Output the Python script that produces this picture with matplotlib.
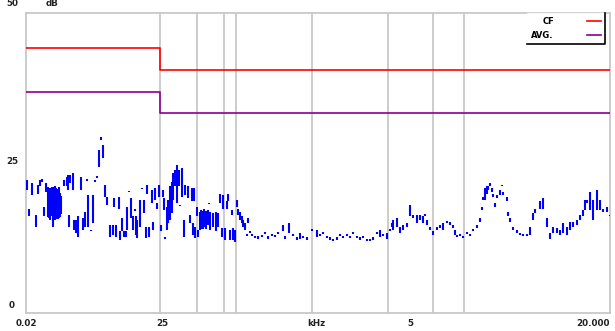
import matplotlib
matplotlib.use("Agg")
import matplotlib.pyplot as plt
from matplotlib.lines import Line2D
from matplotlib.transforms import blended_transform_factory

# band edges (x position along the frequency axis) and step levels
band_edges = [0, 134, 584]
cf_levels = [44.2, 40.5]
avg_levels = [36.8, 33.3]

# vertical markers
grid_x = [134, 171, 198, 210, 286, 362, 407, 438]

# axis labels
xtick_pos = [0, 136, 290, 384, 584]
xtick_labels = ["0.02", "25", "kHz", "5", "20.000"]
ytick_vals = [0, 25, 50]
ytick_shift = [1.3, 0.2, 1.5]

blue_x = [1, 3, 6, 10, 12, 14, 16, 18, 20, 22, 23, 24, 25, 26, 27, 29, 30, 31, 32, 33,
          34, 35, 38, 41, 42, 43, 44, 47, 48, 50, 52, 55, 57, 59, 61, 62, 65, 67, 69, 71,
          73, 75, 77, 79, 81, 84, 87, 88, 90, 93, 94, 96, 98, 100, 101, 103, 105, 107, 109, 110,
          111, 114, 116, 118, 120, 121, 123, 126, 127, 129, 131, 133, 135, 137, 138, 139, 141, 142, 144, 146,
          147, 149, 151, 153, 154, 156, 158, 159, 162, 164, 166, 167, 168, 169, 171, 172, 174, 175, 176, 177,
          178, 179, 180, 182, 183, 184, 187, 190, 192, 194, 196, 197, 199, 201, 202, 204, 206, 207, 209, 211,
          212, 214, 216, 217, 219, 221, 222, 224, 226, 229, 232, 236, 239, 242, 246, 249, 252, 257, 259, 263,
          267, 271, 274, 277, 281, 286, 291, 294, 297, 301, 304, 307, 311, 314, 317, 321, 324, 327, 331, 334,
          337, 341, 344, 347, 351, 354, 357, 361, 364, 366, 367, 371, 374, 377, 381, 384, 387, 391, 394, 397,
          399, 401, 404, 407, 411, 414, 417, 421, 424, 427, 429, 431, 434, 437, 441, 444, 447, 451, 454, 456,
          457, 459, 461, 462, 464, 466, 467, 469, 471, 474, 476, 477, 481, 482, 484, 487, 491, 494, 497, 501,
          504, 507, 509, 514, 517, 521, 524, 527, 531, 534, 537, 541, 544, 547, 551, 554, 557, 559, 561, 564,
          567, 571, 574, 577, 581, 584]
blue_lo = [20.5, 16.1, 19.7, 14.4, 19.9, 21.1, 21.9, 16.1, 20.2, 16.0, 15.8, 15.5, 16.2, 16.5, 14.4, 15.5, 15.7, 16.0, 15.6, 15.8,
           16.0, 16.5, 21.1, 21.1, 20.5, 14.4, 21.6, 20.5, 13.8, 13.3, 12.7, 20.5, 13.8, 14.4, 22.0, 14.4, 13.6, 15.0, 21.8, 22.5,
           24.4, 28.8, 25.8, 19.4, 18.0, 12.7, 13.0, 17.7, 12.7, 17.4, 12.2, 13.6, 12.7, 12.7, 13.8, 20.1, 15.8, 13.8, 17.0, 13.0,
           12.5, 14.4, 20.6, 16.6, 12.5, 19.9, 12.7, 18.3, 13.8, 18.8, 17.4, 19.4, 13.6, 19.4, 17.2, 12.3, 13.8, 15.0, 15.5, 16.6,
           18.8, 21.1, 18.3, 21.1, 17.8, 19.4, 12.7, 19.7, 19.1, 15.0, 18.6, 13.0, 18.6, 12.5, 16.1, 12.7, 13.8, 14.0, 14.2, 14.0,
           14.5, 14.3, 14.0, 14.7, 18.2, 13.8, 14.4, 13.6, 14.4, 18.3, 12.7, 17.4, 12.2, 17.4, 18.6, 12.2, 16.3, 12.2, 11.9, 17.7,
           16.3, 15.5, 15.0, 14.4, 13.8, 12.9, 15.0, 13.4, 12.8, 12.5, 12.4, 12.6, 13.1, 12.4, 12.8, 12.6, 13.1, 13.6, 12.4, 13.3,
           12.8, 12.2, 12.4, 12.5, 12.2, 13.6, 12.7, 12.8, 13.1, 12.5, 12.2, 12.0, 12.2, 12.8, 12.5, 12.8, 12.5, 13.1, 12.5, 12.2,
           12.5, 12.0, 12.0, 12.2, 13.1, 12.7, 12.8, 12.4, 13.6, 14.4, 13.8, 14.4, 13.3, 13.8, 14.4, 16.1, 15.8, 15.0, 15.5, 15.0,
           16.1, 14.7, 13.8, 13.0, 13.8, 14.1, 13.8, 15.0, 14.7, 14.1, 13.0, 12.7, 12.8, 12.5, 13.1, 12.8, 13.6, 14.2, 15.2, 17.2,
           18.8, 18.8, 19.9, 20.5, 21.1, 20.2, 19.4, 17.7, 19.1, 19.7, 21.1, 19.7, 18.6, 16.1, 15.2, 13.8, 13.3, 13.0, 12.8, 12.8,
           13.0, 15.5, 16.6, 17.4, 17.4, 14.4, 12.4, 13.3, 13.3, 13.0, 13.3, 13.0, 13.8, 14.4, 14.7, 15.5, 16.1, 17.2, 18.3, 17.2,
           15.5, 17.2, 17.2, 16.9, 16.9, 16.1]
blue_hi = [22.2, 17.4, 21.6, 16.3, 21.3, 22.2, 22.4, 17.7, 21.6, 21.0, 20.6, 20.8, 20.9, 21.0, 21.0, 21.1, 20.8, 20.5, 20.7, 21.0,
           20.0, 19.5, 22.2, 22.7, 23.0, 16.3, 23.0, 23.3, 15.5, 15.5, 16.1, 22.7, 15.8, 16.9, 22.3, 19.7, 13.9, 19.7, 22.1, 22.8,
           27.2, 29.4, 28.0, 21.3, 19.4, 14.7, 14.7, 19.1, 14.7, 19.4, 13.6, 15.8, 13.6, 13.6, 17.7, 20.4, 19.1, 16.1, 17.3, 16.1,
           15.5, 18.8, 20.9, 18.8, 14.4, 21.3, 14.4, 20.5, 15.2, 20.8, 18.3, 21.3, 14.7, 20.5, 19.1, 12.6, 17.7, 18.8, 21.1, 21.9,
           23.3, 23.8, 24.7, 23.8, 18.0, 24.1, 15.5, 21.3, 21.1, 16.3, 20.8, 15.0, 20.8, 14.4, 17.7, 13.8, 16.9, 17.1, 17.0, 16.8,
           17.3, 16.9, 17.0, 17.2, 18.4, 16.9, 16.6, 16.9, 16.6, 19.9, 14.1, 19.7, 14.1, 18.6, 19.9, 13.8, 17.2, 14.1, 13.8, 18.8,
           17.4, 16.9, 16.1, 15.5, 15.0, 13.1, 15.8, 13.6, 13.2, 12.9, 12.8, 13.0, 13.5, 12.8, 13.2, 13.0, 13.5, 14.7, 12.8, 15.0,
           13.2, 12.6, 13.4, 12.9, 12.6, 14.0, 13.8, 13.2, 13.5, 12.9, 12.6, 12.4, 12.6, 13.2, 12.9, 13.2, 12.9, 13.5, 12.9, 12.6,
           12.9, 12.4, 12.4, 12.6, 13.5, 13.8, 13.2, 13.3, 14.0, 15.0, 15.5, 15.8, 14.4, 14.7, 15.0, 18.0, 16.3, 16.3, 16.3, 16.1,
           16.5, 15.5, 14.4, 13.6, 14.4, 14.7, 15.0, 15.3, 15.2, 14.7, 13.8, 13.0, 13.2, 12.9, 13.5, 13.2, 14.0, 14.6, 15.8, 17.7,
           19.4, 20.8, 21.1, 21.1, 21.6, 20.8, 19.9, 18.3, 19.7, 20.5, 21.3, 20.2, 19.4, 16.9, 15.8, 14.4, 13.8, 13.3, 13.2, 13.2,
           14.4, 16.6, 17.4, 18.6, 19.1, 15.8, 13.3, 14.4, 14.1, 13.8, 15.0, 14.4, 15.2, 15.2, 15.5, 16.3, 17.2, 18.8, 18.8, 20.2,
           18.8, 20.5, 18.8, 17.4, 17.7, 16.3]

fig = plt.figure(figsize=(6.15, 3.31), dpi=100)
ax = fig.add_axes([26 / 615, 18 / 331, 584 / 615, 300 / 331])

grid_c = "#c8c8c8"
for gx in grid_x:
    ax.axvline(gx, color=grid_c, lw=1.3, zorder=1)

ax.vlines(blue_x, blue_lo, blue_hi, colors="#0000ff", lw=1.5, zorder=3)

ax.step(band_edges, cf_levels + cf_levels[-1:], where="post", color="#ff0000", lw=1.2, zorder=4)
ax.step(band_edges, avg_levels + avg_levels[-1:], where="post", color="#8b008b", lw=1.2, zorder=4)

ax.set_xlim(band_edges[0], band_edges[-1])
ax.set_ylim(0, 50)

for s in ax.spines.values():
    s.set_color(grid_c)
    s.set_linewidth(1.3)

ax.set_xticks(xtick_pos, xtick_labels)
ax.tick_params(axis="x", length=0, pad=4, labelsize=6.3, labelcolor="#222222")
ax.set_yticks([])
xl = ax.get_xticklabels()
for lbl in xl:
    lbl.set_fontweight("bold")
xl[-1].set_horizontalalignment("right")

# y labels sit a little off their ticks, like the original
tr = blended_transform_factory(fig.transFigure, ax.transData)
for v, dy in zip(ytick_vals, ytick_shift):
    ax.text(12 / 615, v + dy, str(v), transform=tr, ha="center", va="center",
            fontsize=6.3, color="#222222", fontweight="bold", clip_on=False)
ax.text(52 / 615, 50 + ytick_shift[2], "dB", transform=tr, ha="center", va="center",
        fontsize=6.3, color="#222222", fontweight="bold", clip_on=False)

handles = [Line2D([], [], color="#ff0000", lw=1.2), Line2D([], [], color="#8b008b", lw=1.2)]
leg = ax.legend(handles, ["CF", "AVG."], loc="upper right", bbox_to_anchor=(0.991, 1.0),
                markerfirst=False, frameon=True, fancybox=False, fontsize=6,
                handlelength=1.6, handletextpad=4.0, borderpad=0.5, labelspacing=0.6,
                borderaxespad=0)
leg.get_frame().set_edgecolor("white")
for t in leg.get_texts():
    t.set_fontweight("bold")

# black shadow edges of the legend box
fig.canvas.draw()
bb = leg.get_window_extent().transformed(ax.transAxes.inverted())
ax.plot([bb.x0, bb.x1, bb.x1], [bb.y0, bb.y0, bb.y1], color="black", lw=1.2,
        transform=ax.transAxes, zorder=6, clip_on=False)

fig.savefig("out.png", dpi=100)
